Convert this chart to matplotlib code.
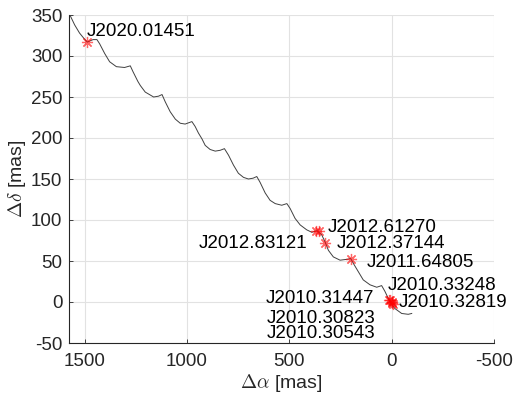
import matplotlib
matplotlib.use("Agg")
import matplotlib.pyplot as plt

plt.rcParams['font.family'] = ['Liberation Sans', 'DejaVu Sans']
plt.rcParams['mathtext.fontset'] = 'cm'
plt.rcParams['axes.unicode_minus'] = False

# Path of the source (proper motion + parallax)
path_ra = [1572, 1549, 1525, 1502, 1487, 1459, 1440, 1427, 1402, 1378, 1345, 1305,
           1277, 1264, 1240, 1228, 1204, 1163, 1139, 1122, 1106, 1082, 1057, 1033,
           1009, 976, 960, 944, 927, 911, 887, 862, 838, 817, 797, 773, 749, 724,
           700, 677, 659, 643, 618, 594, 569, 537, 512, 496, 472, 447, 415, 390,
           365, 342, 325, 309, 285, 252, 220, 200, 187, 163, 139, 106, 73, 49,
           33, 8, -16, -49, -81, -98]
path_dec = [350, 338, 328, 321, 317, 320, 320, 315, 303, 293, 287, 286,
            288, 281, 269, 264, 256, 250, 251, 253, 244, 232, 223, 218,
            217, 220, 214, 206, 199, 191, 186, 184, 185, 187, 179, 167, 157, 152,
            150, 151, 153, 146, 133, 124, 120, 118, 120, 114, 102, 94, 88, 85,
            87, 82, 73, 63, 55, 51, 52, 53, 47, 37, 27, 21, 18, 20,
            13, 0, -8, -14, -15, -14]

# Observation epochs
epochs = ['J2020.01451', 'J2012.83121', 'J2012.61270', 'J2012.37144', 'J2011.64805',
          'J2010.33248', 'J2010.32819', 'J2010.31447', 'J2010.30823', 'J2010.30543']
obs_ra = [1487, 372, 356, 325, 201, 12, 9, 0, -4, -6]
obs_dec = [317, 86, 86, 72, 53, 3, 2.5, 0, -1.5, -2]

# Label anchor positions (data coords) and alignment
lab_x = [1492, 411, 314, 268, 122, 17, -32, 86, 77, 82]
lab_y = [324.4, 65.9, 85.4, 65.9, 42.7, 14.6, -6.1, -1.2, -25.6, -43.9]
lab_ha = ['left', 'right', 'left', 'left', 'left', 'left', 'left', 'right', 'right', 'right']

xticks = [1500, 1000, 500, 0, -500]
yticks = [-50, 0, 50, 100, 150, 200, 250, 300, 350]

W, H = 513, 398
fig = plt.figure(figsize=(W / 100, H / 100), dpi=100)
ax = fig.add_axes([69.3 / W, (H - 343) / H, (494 - 69.3) / W, (343 - 15) / H])

ax.plot(path_ra, path_dec, color='#404040', lw=0.7, zorder=3)
ax.plot(obs_ra, obs_dec, linestyle='none', marker=(8, 2, 0), color='red', alpha=0.6,
        markersize=8, markeredgewidth=0.9, zorder=4)

fs = 13.5
for t, x, y, ha in zip(epochs, lab_x, lab_y, lab_ha):
    ax.text(x, y, t, ha=ha, va='baseline', fontsize=fs, color='black', zorder=5)

ax.set_xlim(1575, -500)
ax.set_ylim(-50, 350)
ax.set_xticks(xticks)
ax.set_yticks(yticks)
ax.grid(True, color='#e2e2e2', lw=0.8)
ax.set_axisbelow(True)
for s in ['top', 'right']:
    ax.spines[s].set_visible(False)
for s in ['left', 'bottom']:
    ax.spines[s].set_color('#262626')
    ax.spines[s].set_linewidth(0.8)
ax.tick_params(direction='in', length=3, width=0.6, colors='#262626',
               labelsize=fs, labelcolor='#262626')
ax.tick_params(axis='x', pad=7)
ax.tick_params(axis='y', pad=5)

ax.set_xlabel(r'$\Delta\alpha$ [mas]', fontsize=14, color='#262626', labelpad=2)
ax.set_ylabel(r'$\Delta\delta$ [mas]', fontsize=14, color='#262626', labelpad=2)

fig.savefig('out.png', dpi=100)
